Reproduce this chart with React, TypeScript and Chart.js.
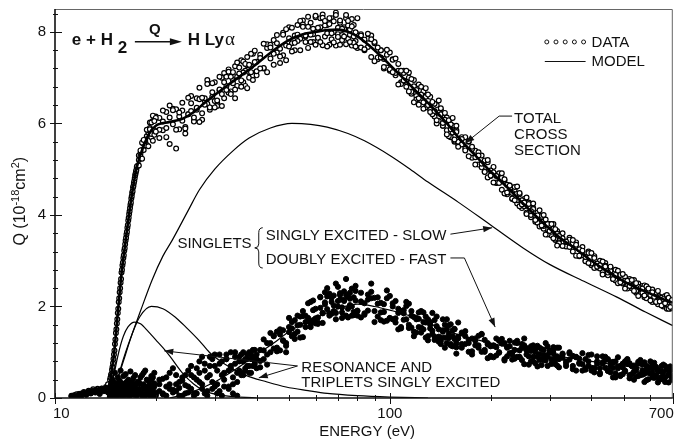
import React, { useEffect, useRef } from "react";
import { Chart, registerables } from "chart.js";

Chart.register(...registerables);

// ---------------- data ----------------
// measurement energies (eV), scan 1
const energies = [
  11.2, 11.4, 11.6, 11.8, 12.0, 12.2, 12.4, 12.6, 12.8, 13.0, 13.2, 13.4, 13.6, 13.8, 14.0, 14.2, 14.4, 14.6,
  14.65, 14.7, 14.75, 14.8, 14.85, 14.9, 14.95, 15.0, 15.05, 15.1,
  15.15, 15.2, 15.25, 15.3, 15.35, 15.4, 15.45, 15.5, 15.55, 15.6,
  15.65, 15.7, 15.75, 15.8, 15.85, 15.9, 15.95, 16.0, 16.05, 16.1,
  16.15, 16.2, 16.25, 16.3, 16.35, 16.4, 16.45, 16.5, 16.55, 16.6,
  16.65, 16.7, 16.75, 16.8, 16.85, 16.9, 16.95, 17.0, 17.05, 17.1,
  17.15, 17.2, 17.25, 17.3, 17.35, 17.4, 17.45, 17.5, 17.55, 17.6,
  17.8, 18.0, 18.2, 18.4, 18.6, 18.8, 19.0, 19.2, 19.4, 19.6, 19.8, 20.0,
  20.5, 21, 21.5, 22, 22.5, 23, 23.5, 24, 24.5, 25,
  25.5, 26, 26.5, 27, 27.5, 28, 28.5, 29, 29.5, 30,
  30.5, 31, 31.5, 32, 32.5, 33, 33.5, 34, 34.5, 35,
  35.5, 36, 36.5, 37, 37.5, 38, 38.5, 39, 39.5, 40,
  41, 42, 43, 44, 45, 46, 47, 48, 49, 50,
  51, 52, 53, 54, 55, 56, 57, 58, 59, 60,
  61, 62, 63, 64, 65, 66, 67, 68, 69, 70,
  71, 72, 73, 74, 75, 76, 77, 78, 79, 80,
  82, 84, 86, 88, 90, 92, 94, 96, 98, 100,
  102, 104, 106, 108, 110, 112, 114, 116, 118, 120,
  122, 124, 126, 128, 130, 132, 134, 136, 138, 140,
  142, 144, 146, 148, 150, 152, 154, 156, 158, 160,
  164, 168, 172, 176, 180, 184, 188, 192, 196, 200,
  204, 208, 212, 216, 220, 224, 228, 232, 236, 240,
  244, 248, 252, 256, 260, 264, 268, 272, 276, 280,
  284, 288, 292, 296, 300, 304, 308, 312, 316, 320,
  328, 336, 344, 352, 360, 368, 376, 384, 392, 400,
  408, 416, 424, 432, 440, 448, 456, 464, 472, 480,
  488, 496, 504, 512, 520, 528, 536, 544, 552, 560,
  568, 576, 584, 592, 600, 608, 616, 624, 632, 640,
  648, 656, 664, 672, 680, 688, 696,
];
// repeated scans start above the onset, at the same energies
const scanEnergies = energies.slice(energies.indexOf(17.8));

// total cross section data, Q (1e-18 cm^2) — scan 1
const totalData = [
  0.05, 0.03, 0.08, 0.06, 0.1, 0.13, 0.09, 0.16, 0.14, 0.19, 0.15, 0.2, 0.17, 0.21, 0.18, 0.24, 0.3, 0.4,
  0.45, 0.5, 0.53, 0.62, 0.68, 0.76, 0.85, 0.95, 1.04, 1.18,
  1.28, 1.42, 1.5, 1.63, 1.72, 1.86, 1.95, 2.1, 2.18, 2.31,
  2.4, 2.52, 2.6, 2.74, 2.8, 2.9, 2.96, 3.06, 3.12, 3.22,
  3.27, 3.36, 3.44, 3.5, 3.58, 3.63, 3.72, 3.78, 3.88, 3.94,
  4.02, 4.08, 4.15, 4.22, 4.27, 4.36, 4.41, 4.48, 4.52, 4.6,
  4.63, 4.7, 4.74, 4.8, 4.86, 4.9, 4.95, 4.98, 5.05, 5.07,
  5.2, 5.35, 5.42, 5.55, 5.6, 5.72, 5.8, 5.9, 5.7, 6.05, 5.85, 6.15,
  6.12, 5.85, 6.25, 5.55, 6.32, 5.45, 6.15, 6.45, 5.92, 6.2,
  6.6, 6.05, 6.3, 6.78, 6.22, 6.5, 6.95, 6.35, 6.58, 6.9,
  6.45, 6.72, 7.0, 6.55, 6.82, 7.18, 6.7, 6.95, 7.25, 6.82,
  7.05, 7.38, 6.9, 7.15, 7.45, 7.0, 7.25, 7.52, 7.1, 7.35,
  7.5, 7.2, 7.65, 7.42, 7.82, 7.55, 7.32, 7.98, 7.7, 8.1,
  7.75, 7.6, 8.15, 7.85, 8.25, 7.9, 7.65, 8.2, 7.95, 8.32,
  7.8, 8.1, 8.38, 7.9, 8.15, 7.72, 8.3, 8.0, 8.42, 7.95,
  8.2, 7.82, 8.1, 8.3, 7.85, 8.05, 7.7, 8.15, 7.8, 7.95,
  7.95, 7.6, 7.85, 7.45, 7.75, 7.4, 7.6, 7.2, 7.5, 7.15,
  7.4, 7.05, 7.3, 6.9, 7.15, 6.8, 7.0, 6.65, 6.95, 6.6,
  6.85, 6.5, 6.7, 6.35, 6.6, 6.3, 6.45, 6.15, 6.4, 6.05,
  6.3, 5.95, 6.15, 5.85, 6.05, 5.7, 5.95, 5.6, 5.85, 5.55,
  5.7, 5.45, 5.6, 5.25, 5.4, 5.1, 5.3, 4.95, 5.15, 4.85,
  5.05, 4.7, 4.9, 4.55, 4.75, 4.45, 4.65, 4.35, 4.55, 4.25,
  4.45, 4.15, 4.35, 4.05, 4.25, 3.95, 4.15, 3.85, 4.05, 3.8,
  3.95, 3.7, 3.9, 3.6, 3.8, 3.55, 3.7, 3.45, 3.65, 3.4,
  3.6, 3.35, 3.5, 3.2, 3.4, 3.1, 3.3, 3.0, 3.2, 2.9,
  3.1, 2.85, 3.0, 2.75, 2.95, 2.7, 2.85, 2.6, 2.8, 2.55,
  2.7, 2.5, 2.65, 2.45, 2.6, 2.4, 2.55, 2.3, 2.5, 2.3,
  2.45, 2.2, 2.4, 2.2, 2.35, 2.1, 2.3, 2.1, 2.25, 2.05,
  2.2, 2.0, 2.15, 1.95, 2.1, 1.95, 2.05,
];
// total — scan 2 (from 17.8 eV)
const totalScan2 = [
  5.3, 5.28, 5.58, 5.42, 5.65, 5.53, 5.85, 6.02, 5.77, 6.17, 5.75, 6.12,
  5.86, 6.28, 5.7, 6.13, 5.98, 6.31, 5.87, 6.28, 5.78, 6.2,
  6.27, 6.04, 6.55, 6.53, 6.08, 6.55, 6.43, 6.3, 6.88, 6.49,
  6.38, 6.74, 6.64, 7.1, 7.02, 6.67, 7.02, 6.88, 6.74, 7.33,
  7.22, 6.94, 7.11, 6.82, 7.27, 7.12, 7.52, 7.05, 7.34, 7.05,
  7.43, 7.21, 7.73, 7.72, 7.28, 7.75, 7.63, 7.49, 8.06, 7.68,
  7.57, 7.92, 7.8, 8.24, 8.16, 7.78, 8.11, 7.94, 7.78, 8.35,
  7.87, 8.3, 7.71, 8.14, 7.97, 8.3, 7.84, 8.23, 7.7, 8.09,
  8.25, 7.93, 8.06, 7.73, 8.14, 7.94, 8.28, 7.76, 7.99, 7.65,
  7.66, 7.83, 7.67, 7.92, 7.78, 7.44, 7.6, 7.41, 7.22, 7.55,
  7.39, 7.1, 7.15, 6.86, 7.1, 6.91, 7.11, 6.69, 6.81, 6.52,
  6.55, 6.8, 6.32, 6.58, 6.4, 6.58, 6.2, 6.43, 6.0, 6.23,
  6.2, 5.95, 6.23, 6.13, 5.72, 5.98, 5.8, 5.62, 5.95, 5.6,
  5.54, 5.7, 5.28, 5.44, 5.26, 5.37, 5.04, 5.19, 4.82, 4.97,
  4.93, 4.71, 4.91, 4.81, 4.47, 4.66, 4.51, 4.36, 4.61, 4.32,
  4.19, 4.32, 4.19, 4.38, 4.27, 4.0, 4.13, 3.98, 3.83, 4.1,
  3.98, 3.76, 3.79, 3.57, 3.77, 3.63, 3.8, 3.48, 3.59, 3.38,
  3.49, 3.31, 3.46, 3.38, 3.11, 3.25, 3.12, 2.99, 3.17, 2.94,
  2.84, 2.94, 2.83, 2.98, 2.89, 2.68, 2.78, 2.67, 2.57, 2.78,
  2.69, 2.52, 2.56, 2.39, 2.54, 2.44, 2.58, 2.34, 2.43, 2.27,
  2.3, 2.46, 2.18, 2.35, 2.25, 2.37, 2.15, 2.3, 2.05, 2.2,
  2.19, 2.05, 2.23, 2.18, 1.95, 2.13, 2.04,
];
// total — scan 3 (from 17.8 eV)
const totalScan3 = [
  5.08, 5.41, 5.23, 5.64, 5.52, 5.86, 5.5, 5.87, 6.02, 5.62, 6.05, 5.82,
  5.68, 6.04, 5.9, 6.39, 6.29, 5.86, 6.24, 6.06, 5.89, 6.56,
  6.44, 6.13, 6.34, 6.03, 6.56, 6.41, 6.86, 6.35, 6.68, 6.35,
  6.5, 7.02, 6.38, 6.9, 6.73, 7.13, 6.64, 7.12, 6.55, 7.02,
  7.09, 6.8, 7.35, 7.3, 6.77, 7.28, 7.12, 6.95, 7.59, 7.14,
  7.2, 7.74, 7.12, 7.66, 7.52, 7.93, 7.46, 7.94, 7.38, 7.86,
  8.09, 7.76, 7.94, 7.6, 8.11, 7.92, 8.33, 7.78, 8.07, 7.72,
  8.09, 7.78, 8.31, 8.24, 7.68, 8.17, 7.97, 7.77, 8.37, 7.89,
  7.72, 8.07, 7.9, 8.37, 8.24, 7.78, 8.12, 7.9, 7.68, 8.3,
  7.92, 7.62, 7.96, 7.84, 7.36, 7.66, 7.44, 7.23, 7.61, 7.18,
  7.12, 7.42, 6.85, 7.15, 6.94, 7.15, 6.7, 6.97, 6.46, 6.73,
  6.41, 6.63, 6.46, 6.77, 6.63, 6.25, 6.47, 6.27, 6.07, 6.5,
  6.33, 6.01, 6.08, 5.76, 6.07, 5.87, 6.12, 5.65, 5.81, 5.49,
  5.66, 5.41, 5.61, 5.49, 5.1, 5.3, 5.12, 4.94, 5.2, 4.86,
  4.71, 4.85, 4.7, 4.91, 4.78, 4.49, 4.64, 4.48, 4.32, 4.62,
  4.48, 4.23, 4.27, 4.02, 4.24, 4.08, 4.25, 3.89, 3.99, 3.75,
  3.77, 4.0, 3.57, 3.8, 3.65, 3.8, 3.49, 3.69, 3.33, 3.54,
  3.32, 3.42, 3.3, 3.45, 3.35, 3.11, 3.22, 3.08, 2.95, 3.17,
  3.06, 2.87, 2.9, 2.7, 2.87, 2.74, 2.87, 2.6, 2.69, 2.51,
  2.53, 2.71, 2.39, 2.56, 2.45, 2.58, 2.34, 2.51, 2.23, 2.4,
  2.39, 2.24, 2.44, 2.39, 2.13, 2.31, 2.21, 2.1, 2.34, 2.11,
  2.02, 2.16, 2.07, 2.25, 2.19, 1.99, 2.14,
];

// doubly excited (fast) data — scan 1
const fastData = [
  0.04, 0.06, 0.03, 0.09, 0.05, 0.11, 0.07, 0.14, 0.1, 0.16, 0.12, 0.18, 0.09, 0.2, 0.15, 0.22, 0.12, 0.25,
  0.1, 0.3, 0.05, 0.22, 0.4, 0.15, 0.08, 0.35, 0.18, 0.55,
  0.12, 0.25, 0.02, 0.3, 0.2, 0.45, 0.1, 0.28, 0.06, 0.38,
  0.15, 0.6, 0.2, 0.1, 0.32, 0.04, 0.25, 0.48, 0.14, 0.3,
  0.08, 0.22, 0.52, 0.18, 0.35, 0.06, 0.27, 0.12, 0.4, 0.2,
  0.1, 0.33, 0.05, 0.58, 0.16, 0.28, 0.09, 0.36, 0.2, 0.12,
  0.44, 0.07, 0.26, 0.15, 0.5, 0.1, 0.3, 0.18, 0.05, 0.35,
  0.2, 0.45, 0.1, 0.3, 0.6, 0.15, 0.25, 0.05, 0.4, 0.2, 0.55, 0.12,
  0.3, 0.1, 0.45, 0.2, 0.65, 0.15, 0.35, 0.05, 0.5, 0.25,
  0.7, 0.1, 0.4, 0.8, 0.2, 0.6, 0.05, 0.9, 0.35, 0.7,
  0.1, 0.95, 0.5, 0.25, 0.85, 0.6, 1.0, 0.3, 0.75, 0.05,
  0.9, 0.55, 0.8, 0.65, 0.95, 0.7, 0.85, 1.05, 0.8, 0.95,
  1.05, 0.85, 1.2, 1.0, 1.35, 1.1, 1.5, 1.25, 1.2, 1.55,
  1.35, 1.7, 1.45, 1.6, 1.9, 1.55, 1.75, 2.1, 1.7, 1.95,
  1.65, 2.2, 1.85, 2.05, 2.4, 1.8, 2.1, 1.9, 2.5, 2.0,
  2.25, 1.75, 2.15, 2.6, 1.95, 2.3, 1.8, 2.2, 2.45, 1.9,
  2.3, 1.85, 2.15, 2.5, 1.9, 2.2, 1.7, 2.05, 2.35, 1.75,
  2.0, 1.65, 1.95, 1.55, 1.85, 2.1, 1.6, 1.8, 1.45, 1.75,
  1.55, 1.9, 1.5, 1.65, 1.35, 1.6, 1.4, 1.7, 1.3, 1.5,
  1.25, 1.45, 1.6, 1.2, 1.4, 1.15, 1.35, 1.5, 1.2, 1.3,
  1.1, 1.35, 1.2, 0.95, 1.25, 1.1, 1.4, 1.05, 1.2, 0.9,
  1.15, 1.3, 1.0, 1.2, 0.85, 1.1, 1.25, 0.95, 1.05, 1.2,
  0.9, 1.1, 1.3, 0.95, 1.05, 0.8, 1.15, 1.0, 0.9, 1.1,
  0.85, 1.05, 1.2, 0.9, 1.0, 0.75, 1.05, 0.9, 1.1, 0.85,
  0.95, 0.8, 1.0, 0.7, 0.9, 0.75, 0.6, 0.85, 0.7, 0.95,
  0.65, 0.8, 0.55, 0.75, 0.9, 0.6, 0.7, 0.45, 0.8, 0.65,
  0.5, 0.75, 0.6, 0.85, 0.5, 0.7, 0.4, 0.65, 0.75, 0.5,
  0.6, 0.35, 0.7, 0.55, 0.8, 0.45, 0.65, 0.5, 0.6, 0.4,
  0.7, 0.55, 0.45, 0.65, 0.5, 0.6, 0.45,
];
// fast — scan 2 (from 17.8 eV)
const fastScan2 = [
  0.35, 0.1, 0.5, 0.2, 0.05, 0.4, 0.15, 0.3, 0.02, 0.45, 0.25, 0.08,
  0.15, 0.42, 0.05, 0.3, 0.12, 0.5, 0.22, 0.38, 0.1, 0.6,
  0.2, 0.45, 0.1, 0.55, 0.3, 0.75, 0.15, 0.5, 0.85, 0.25,
  0.6, 0.15, 0.8, 0.4, 0.95, 0.2, 0.7, 0.45, 1.0, 0.35,
  0.6, 0.95, 0.5, 0.85, 0.7, 1.0, 0.55, 0.9, 0.75, 0.65,
  0.81, 1.28, 0.73, 1.2, 1.08, 1.45, 1.04, 1.48, 1.0, 1.44,
  1.52, 1.29, 1.8, 1.78, 1.33, 1.8, 1.68, 1.55, 2.13, 1.74,
  1.62, 1.97, 1.86, 2.31, 2.22, 1.85, 2.19, 2.02, 1.86, 2.43,
  2.29, 1.98, 2.12, 1.8, 2.22, 2.03, 2.39, 1.88, 2.13, 1.8,
  2.11, 1.82, 2.26, 2.18, 1.66, 2.06, 1.87, 1.67, 2.18, 1.74,
  1.72, 2.12, 1.5, 1.9, 1.71, 2.01, 1.53, 1.9, 1.35, 1.72,
  1.87, 1.54, 1.66, 1.32, 1.72, 1.52, 1.86, 1.34, 1.57, 1.23,
  1.18, 1.48, 1.32, 1.72, 1.59, 1.18, 1.48, 1.29, 1.11, 1.65,
  1.18, 1.46, 1.01, 1.3, 1.15, 1.36, 1.01, 1.27, 0.87, 1.13,
  0.89, 1.11, 0.99, 1.29, 1.2, 0.91, 1.13, 0.99, 0.86, 1.25,
  1.04, 0.83, 1.15, 1.09, 0.73, 1.03, 0.9, 0.76, 1.14, 0.83,
  1.07, 0.83, 0.93, 0.7, 0.99, 0.85, 1.11, 0.74, 0.91, 0.67,
  0.88, 0.7, 0.97, 0.92, 0.6, 0.86, 0.74, 0.62, 0.94, 0.66,
  0.65, 0.91, 0.52, 0.78, 0.66, 0.85, 0.56, 0.79, 0.45, 0.69,
  0.48, 0.67, 0.58, 0.84, 0.76, 0.52, 0.71, 0.6, 0.48, 0.83,
  0.73, 0.53, 0.61, 0.41, 0.67, 0.56, 0.77, 0.46, 0.6, 0.41,
  0.46, 0.73, 0.35, 0.61, 0.5, 0.69, 0.4,
];
// fast — scan 3 (from 17.8 eV)
const fastScan3 = [
  0.15, 0.3, 0.05, 0.55, 0.25, 0.1, 0.38, 0.2, 0.48, 0.12, 0.32, 0.05,
  0.4, 0.08, 0.25, 0.55, 0.18, 0.3, 0.05, 0.45, 0.28, 0.12,
  0.5, 0.05, 0.65, 0.35, 0.9, 0.1, 0.45, 0.7, 0.2, 0.95,
  0.3, 0.75, 0.05, 0.55, 0.85, 0.25, 0.65, 0.1, 0.9, 0.55,
  0.8, 0.5, 1.0, 0.6, 0.85, 0.55, 0.95, 0.7, 1.05, 0.85,
  0.67, 1.04, 0.95, 1.42, 1.36, 1.02, 1.39, 1.26, 1.14, 1.75,
  1.66, 1.4, 1.59, 1.32, 1.79, 1.66, 2.07, 1.62, 1.92, 1.63,
  1.76, 2.21, 1.64, 2.09, 1.94, 2.28, 1.84, 2.24, 1.72, 2.12,
  2.15, 1.87, 2.33, 2.26, 1.76, 2.17, 2.0, 1.81, 2.34, 1.91,
  1.76, 2.07, 1.91, 2.32, 2.19, 1.78, 2.08, 1.88, 1.69, 2.23,
  2.07, 1.74, 1.86, 1.52, 1.92, 1.72, 2.06, 1.54, 1.77, 1.43,
  1.73, 1.43, 1.87, 1.78, 1.26, 1.66, 1.47, 1.27, 1.78, 1.34,
  1.32, 1.72, 1.1, 1.5, 1.31, 1.61, 1.13, 1.51, 0.97, 1.34,
  1.43, 1.18, 1.27, 1.02, 1.3, 1.15, 1.39, 1.01, 1.17, 0.92,
  1.14, 0.93, 1.25, 1.19, 0.82, 1.12, 0.98, 0.84, 1.21, 0.9,
  0.89, 1.18, 0.74, 1.04, 0.91, 1.13, 0.8, 1.07, 0.69, 0.96,
  0.72, 0.94, 0.82, 1.13, 1.04, 0.75, 0.98, 0.84, 0.71, 1.1,
  0.97, 0.76, 0.84, 0.63, 0.89, 0.77, 0.98, 0.66, 0.8, 0.6,
  0.56, 0.75, 0.65, 0.91, 0.83, 0.59, 0.78, 0.66, 0.54, 0.89,
  0.7, 0.52, 0.8, 0.75, 0.43, 0.7, 0.58, 0.47, 0.79, 0.52,
  0.51, 0.78, 0.39, 0.66, 0.54, 0.73, 0.44, 0.68, 0.34, 0.58,
  0.59, 0.42, 0.7, 0.65, 0.34, 0.61, 0.49,
];

// model curves
const totalModelE = [14.4, 14.6, 15.0, 15.4, 15.8, 16.2, 16.6, 17.0, 17.5, 18, 18.5, 19, 20, 22, 24, 26, 28, 30, 33, 36, 40, 45, 50, 55, 60, 65, 70, 75, 80, 90, 100, 110, 120, 130, 140, 150, 160, 180, 200, 228, 250, 280, 320, 360, 400, 450, 500, 550, 600, 650, 700];
const totalModelQ = [0.0, 0.35, 0.95, 1.85, 2.72, 3.35, 3.95, 4.48, 5.0, 5.32, 5.55, 5.75, 5.95, 6.03, 6.1, 6.25, 6.45, 6.62, 6.85, 7.05, 7.3, 7.6, 7.82, 7.95, 8.0, 8.04, 8.05, 8.0, 7.9, 7.6, 7.28, 6.98, 6.7, 6.45, 6.2, 5.95, 5.7, 5.3, 4.95, 4.55, 4.25, 3.9, 3.52, 3.25, 3.0, 2.75, 2.55, 2.4, 2.28, 2.17, 2.08];

const slowModelE = [14.8, 15, 16, 17, 18, 19.5, 21, 22.4, 25, 27, 30, 34, 38, 44, 51, 58, 65, 75, 84, 100, 115, 130, 160, 200, 250, 300, 380, 475, 580, 700];
const slowModelQ = [0, 0.15, 0.8, 1.4, 1.9, 2.58, 3.1, 3.45, 4.1, 4.55, 5.0, 5.4, 5.68, 5.9, 6.0, 5.98, 5.92, 5.78, 5.62, 5.3, 5.0, 4.72, 4.28, 3.78, 3.28, 2.92, 2.55, 2.21, 1.88, 1.58];

const fastModelE = [22, 25, 30, 35, 40, 45, 50, 60, 70, 80, 90, 100, 120, 150, 200, 250, 300, 400, 500, 600, 700];
const fastModelQ = [0, 0.1, 0.35, 0.65, 0.95, 1.2, 1.45, 1.75, 1.95, 2.05, 2.0, 1.92, 1.75, 1.45, 1.2, 1.05, 0.95, 0.8, 0.7, 0.63, 0.58];

const resonanceE = [14.6, 15, 15.5, 16, 16.5, 17.3, 18, 19, 20, 21, 22, 24, 26, 28, 32, 40];
const resonanceQ = [0, 0.5, 1.0, 1.35, 1.55, 1.66, 1.62, 1.45, 1.27, 1.1, 0.92, 0.55, 0.3, 0.15, 0.05, 0];

const tripletE = [14.6, 15.2, 16, 17, 17.9, 19.4, 21, 23, 24.6, 27, 28.9, 32, 37, 43, 49, 57, 65, 80, 100, 130];
const tripletQ = [0, 0.3, 0.85, 1.4, 1.77, 2.0, 1.95, 1.75, 1.55, 1.25, 1.0, 0.75, 0.5, 0.35, 0.24, 0.16, 0.1, 0.05, 0.02, 0];

// axes
const xTickValues = [10, 20, 30, 40, 50, 60, 70, 80, 90, 100, 200, 300, 400, 500, 600, 700];
const xTickLabels = [10, 100, 700];
const yTickValues = [0, 0.4, 0.8, 1.2, 1.6, 2, 2.4, 2.8, 3.2, 3.6, 4, 4.4, 4.8, 5.2, 5.6, 6, 6.4, 6.8, 7.2, 7.6, 8, 8.4];
const yTickLabels = [0, 2, 4, 6, 8];

// ---------------- annotation placement (data coordinates) ----------------
type P = [number, number];
const equationAt: P = [11.23, 7.72];
const legendAt = { from: 294.3, to: 379, dataQ: 7.78, modelQ: 7.37, textE: 400.4, dataTextQ: 7.67, modelTextQ: 7.26 };
const labels: { text: string; e: number; q: number }[] = [
  { text: "TOTAL", e: 235, q: 6.01 },
  { text: "CROSS", e: 235, q: 5.66 },
  { text: "SECTION", e: 235, q: 5.31 },
  { text: "SINGLETS", e: 23.2, q: 3.28 },
  { text: "SINGLY EXCITED - SLOW", e: 42.6, q: 3.45 },
  { text: "DOUBLY EXCITED - FAST", e: 42.6, q: 2.93 },
  { text: "RESONANCE AND", e: 54.4, q: 0.57 },
  { text: "TRIPLETS SINGLY EXCITED", e: 54.4, q: 0.24 },
];
const arrows: P[][] = [
  [[231.8, 6.16], [212.1, 6.16], [168.1, 5.57]],
  [[151.7, 3.58], [202.1, 3.72]],
  [[151.7, 3.06], [167.0, 3.06], [206.3, 1.55]],
  [[53.0, 0.7], [21.2, 1.03]],
  [[53.0, 0.7], [40.6, 0.44]],
];
const braceAt = { e: 40.6, top: 3.72, bottom: 2.84 };
const yTitleQ = 4.3;
const xTitleE = 85.5;

const FONT = '"Liberation Sans", Arial, Helvetica, sans-serif';
const INK = "#111";

const pts = (xs: number[], ys: number[]) =>
  xs.slice(0, Math.min(xs.length, ys.length)).map((x, i) => ({ x, y: ys[i] }));

function arrowHead(ctx: CanvasRenderingContext2D, fx: number, fy: number, tx: number, ty: number, len = 9, half = 3.2) {
  const a = Math.atan2(ty - fy, tx - fx);
  const c = Math.cos(a), s = Math.sin(a);
  ctx.beginPath();
  ctx.moveTo(tx, ty);
  ctx.lineTo(tx - len * c + half * s, ty - len * s - half * c);
  ctx.lineTo(tx - len * c - half * s, ty - len * s + half * c);
  ctx.closePath();
  ctx.fill();
}

const decor = {
  id: "decor",
  afterDatasetsDraw(chart: any) {
    const ctx: CanvasRenderingContext2D = chart.ctx;
    const a = chart.chartArea;
    const X = (v: number) => chart.scales.x.getPixelForValue(v);
    const Y = (v: number) => chart.scales.y.getPixelForValue(v);
    ctx.save();

    // frame (top & right)
    ctx.strokeStyle = "#666";
    ctx.lineWidth = 1;
    ctx.beginPath();
    ctx.moveTo(a.left, a.top + 0.5);
    ctx.lineTo(a.right - 0.5, a.top + 0.5);
    ctx.lineTo(a.right - 0.5, a.bottom);
    ctx.stroke();

    // axes
    ctx.strokeStyle = INK;
    ctx.lineWidth = 1.6;
    ctx.beginPath();
    ctx.moveTo(a.left, a.top);
    ctx.lineTo(a.left, a.bottom);
    ctx.lineTo(a.right, a.bottom);
    ctx.stroke();

    // ticks
    ctx.lineWidth = 1;
    ctx.beginPath();
    for (const v of yTickValues) {
      const p = Math.round(Y(v)) + 0.5;
      const major = yTickLabels.includes(v);
      ctx.moveTo(a.left - (major ? 5 : 2), p);
      ctx.lineTo(a.left + (major ? 7 : 3), p);
    }
    for (const v of xTickValues) {
      const p = Math.round(X(v)) + 0.5;
      const major = xTickLabels.includes(v);
      ctx.moveTo(p, a.bottom - (major ? 5 : 3));
      ctx.lineTo(p, a.bottom + (major ? 6 : 3));
    }
    ctx.stroke();

    // tick labels
    ctx.fillStyle = INK;
    ctx.font = `15px ${FONT}`;
    ctx.textAlign = "right";
    ctx.textBaseline = "middle";
    for (const v of yTickLabels) ctx.fillText(String(v), a.left - 9, Y(v));
    ctx.textBaseline = "alphabetic";
    xTickLabels.forEach((v, i) => {
      const p = X(v);
      if (i === 0) {
        ctx.textAlign = "left";
        ctx.fillText(String(v), p - 2, a.bottom + 20);
      } else if (i === xTickLabels.length - 1) {
        ctx.textAlign = "right";
        ctx.fillText(String(v), p + 1, a.bottom + 20);
      } else {
        ctx.textAlign = "center";
        ctx.fillText(String(v), p, a.bottom + 20);
      }
    });

    // x title
    ctx.textAlign = "center";
    ctx.fillText("ENERGY (eV)", X(xTitleE), a.bottom + 38);

    // y title (rotated, with superscripts)
    {
      const parts: [string, number, number][] = [
        ["Q (10", 16, 0],
        ["-18", 11, -6],
        ["cm", 16, 0],
        ["2", 11, -6],
        [")", 16, 0],
      ];
      let w = 0;
      for (const [t, s] of parts) {
        ctx.font = `${s}px ${FONT}`;
        w += ctx.measureText(t).width;
      }
      ctx.save();
      ctx.translate(a.left - 30, Y(yTitleQ));
      ctx.rotate(-Math.PI / 2);
      ctx.textAlign = "left";
      let x = -w / 2;
      for (const [t, s, dy] of parts) {
        ctx.font = `${s}px ${FONT}`;
        ctx.fillText(t, x, dy);
        x += ctx.measureText(t).width;
      }
      ctx.restore();
    }

    // equation
    {
      const ex = X(equationAt[0]);
      const eb = Y(equationAt[1]);
      ctx.textAlign = "left";
      ctx.font = `bold 17px ${FONT}`;
      ctx.fillText("e + H", ex, eb);
      ctx.fillText("2", ex + 46, eb + 8);
      ctx.lineWidth = 1.5;
      ctx.beginPath();
      ctx.moveTo(ex + 63, eb - 3);
      ctx.lineTo(ex + 104, eb - 3);
      ctx.stroke();
      arrowHead(ctx, ex + 63, eb - 3, ex + 110, eb - 3, 12, 3.5);
      ctx.font = `bold 15px ${FONT}`;
      ctx.textAlign = "center";
      ctx.fillText("Q", ex + 83, eb - 11);
      ctx.textAlign = "left";
      ctx.font = `bold 17px ${FONT}`;
      ctx.fillText("H Ly", ex + 116, eb);
      const w = ctx.measureText("H Ly").width;
      ctx.font = `19px "Liberation Serif", "DejaVu Serif", serif`;
      ctx.fillText("\u03b1", ex + 116 + w + 1, eb);
    }

    // legend
    {
      const c0 = X(legendAt.from), c1 = X(legendAt.to);
      const cy = Y(legendAt.dataQ);
      ctx.lineWidth = 1;
      for (let i = 0; i < 5; i++) {
        ctx.beginPath();
        ctx.arc(c0 + (i * (c1 - c0)) / 4, cy, 2, 0, Math.PI * 2);
        ctx.fillStyle = "#fff";
        ctx.fill();
        ctx.stroke();
      }
      ctx.fillStyle = INK;
      const ly = Math.round(Y(legendAt.modelQ)) + 0.5;
      ctx.beginPath();
      ctx.moveTo(c0 - 2, ly);
      ctx.lineTo(c1 + 2, ly);
      ctx.stroke();
      ctx.font = `15px ${FONT}`;
      ctx.textAlign = "left";
      ctx.fillText("DATA", X(legendAt.textE), Y(legendAt.dataTextQ));
      ctx.fillText("MODEL", X(legendAt.textE), Y(legendAt.modelTextQ));
    }

    // annotation labels
    ctx.font = `15px ${FONT}`;
    ctx.textAlign = "left";
    for (const l of labels) ctx.fillText(l.text, X(l.e), Y(l.q));

    // brace
    {
      const bx = X(braceAt.e), bt = Y(braceAt.top), bb = Y(braceAt.bottom), bm = (bt + bb) / 2;
      ctx.lineWidth = 1;
      ctx.beginPath();
      ctx.moveTo(bx + 4, bt);
      ctx.quadraticCurveTo(bx, bt, bx, bt + 5);
      ctx.lineTo(bx, bm - 4);
      ctx.quadraticCurveTo(bx, bm, bx - 4, bm);
      ctx.quadraticCurveTo(bx, bm, bx, bm + 4);
      ctx.lineTo(bx, bb - 5);
      ctx.quadraticCurveTo(bx, bb, bx + 4, bb);
      ctx.stroke();
    }

    // arrows
    ctx.lineWidth = 1;
    for (const path of arrows) {
      const q = path.map(([e, v]) => [X(e), Y(v)]);
      ctx.beginPath();
      ctx.moveTo(q[0][0], q[0][1]);
      for (let i = 1; i < q.length; i++) ctx.lineTo(q[i][0], q[i][1]);
      ctx.stroke();
      const n = q.length;
      arrowHead(ctx, q[n - 2][0], q[n - 2][1], q[n - 1][0], q[n - 1][1]);
    }

    ctx.restore();
  },
};

export default function App() {
  const ref = useRef<HTMLCanvasElement>(null);

  useEffect(() => {
    document.body.style.margin = "0";
    if (!ref.current) return;
    const line = (data: any[], width: number) => ({
      data,
      showLine: true,
      borderColor: "#000",
      borderWidth: width,
      pointRadius: 0,
      fill: false,
      cubicInterpolationMode: "monotone" as const,
    });
    const totalPoints = [
      ...pts(energies, totalData),
      ...pts(scanEnergies, totalScan2),
      ...pts(scanEnergies, totalScan3),
    ];
    const fastPoints = [
      ...pts(energies, fastData),
      ...pts(scanEnergies, fastScan2),
      ...pts(scanEnergies, fastScan3),
    ];
    const chart = new Chart(ref.current, {
      type: "scatter",
      data: {
        datasets: [
          line(pts(totalModelE, totalModelQ), 2.6),
          line(pts(slowModelE, slowModelQ), 1.2),
          line(pts(fastModelE, fastModelQ), 1.2),
          line(pts(resonanceE, resonanceQ), 1.2),
          line(pts(tripletE, tripletQ), 1.2),
          {
            data: fastPoints,
            showLine: false,
            pointRadius: 2.6,
            pointBackgroundColor: "#000",
            pointBorderColor: "#000",
            pointBorderWidth: 1,
          },
          {
            data: totalPoints,
            showLine: false,
            pointRadius: 2.4,
            pointBackgroundColor: "#fff",
            pointBorderColor: "#000",
            pointBorderWidth: 1.2,
          },
        ] as any,
      },
      options: {
        responsive: false,
        animation: false,
        devicePixelRatio: 1,
        events: [],
        layout: { padding: { left: 55, right: 1, top: 9, bottom: 43 } },
        plugins: { legend: { display: false }, tooltip: { enabled: false } },
        scales: {
          x: { type: "logarithmic", min: 10, max: 700, display: false },
          y: { type: "linear", min: 0, max: 8.5, display: false },
        },
      },
      plugins: [decor],
    });
    return () => chart.destroy();
  }, []);

  return (
    <div style={{ width: 678, height: 441, background: "#fff" }}>
      <canvas ref={ref} width={678} height={441} style={{ display: "block" }} />
    </div>
  );
}
